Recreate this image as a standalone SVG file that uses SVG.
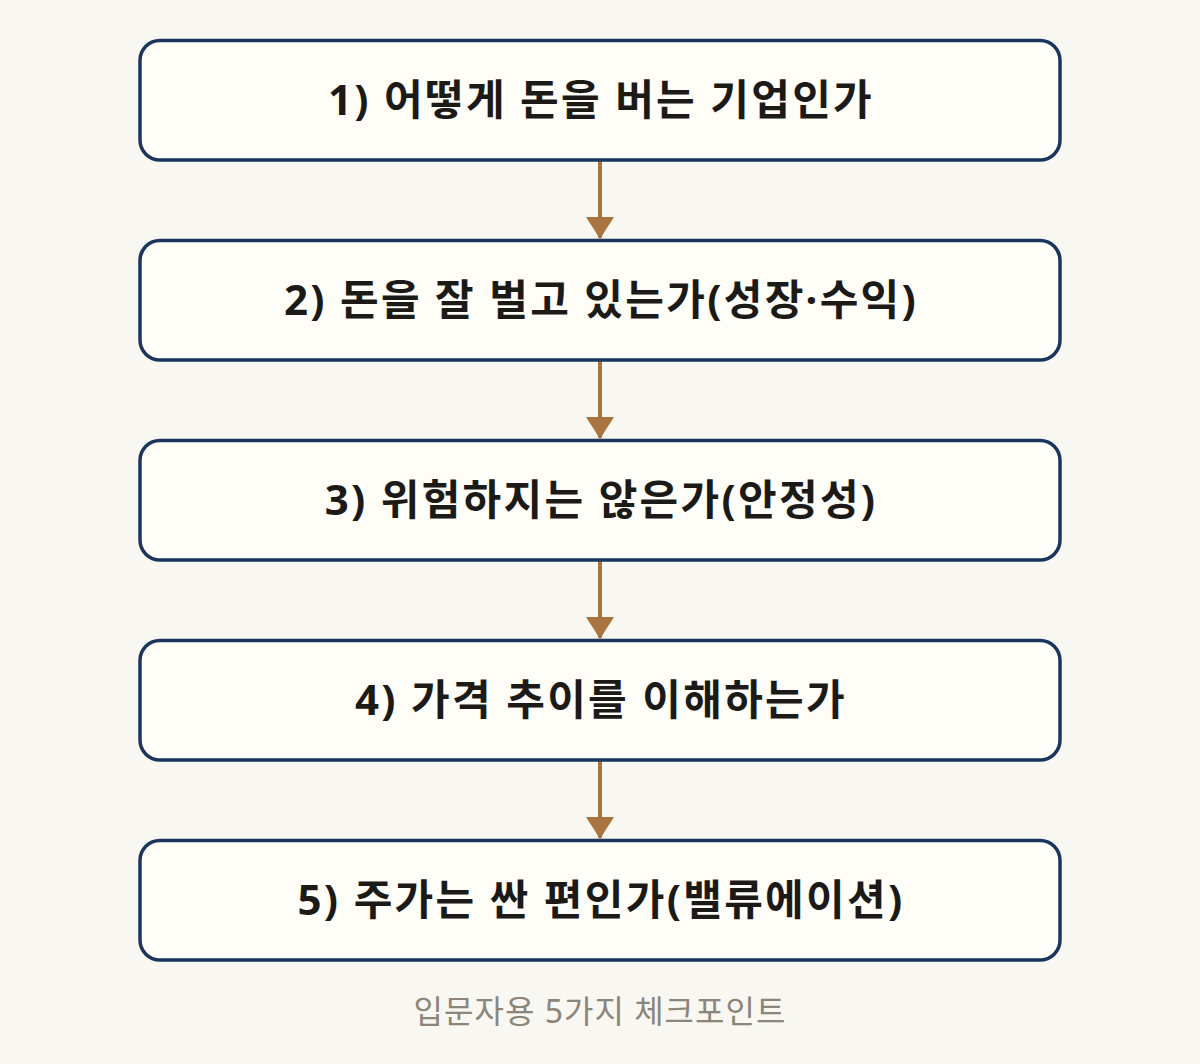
<svg xmlns="http://www.w3.org/2000/svg" width="1200" height="1064" viewBox="0 0 1200 1064">
<defs>
<style>
.box{fill:#fffdf8;stroke:#1b365d;stroke-width:3.5}
.lbl{font-family:"Noto Sans","Noto Sans CJK KR",sans-serif;font-size:42px;font-weight:700;fill:#1c1a17;text-anchor:middle;letter-spacing:2.3px}
.cap{font-family:"Noto Sans","Noto Sans CJK KR",sans-serif;font-size:32px;font-weight:400;fill:#8c8579;text-anchor:middle;letter-spacing:1px}
.edge{stroke:#a8743f;stroke-width:4;fill:none}
</style>
<marker id="ah" markerUnits="userSpaceOnUse" markerWidth="22" markerHeight="28" refX="21" refY="14" orient="auto" viewBox="0 0 22 28">
<path d="M0,0 L22,14 L0,28 Z" fill="#a8743f"/>
</marker>
</defs>
<rect width="1200" height="1064" fill="#f9f7f1"/>
<g id="connectors">
<line class="edge" x1="600" y1="161" x2="600" y2="238" marker-end="url(#ah)"/>
<line class="edge" x1="600" y1="361" x2="600" y2="438" marker-end="url(#ah)"/>
<line class="edge" x1="600" y1="561" x2="600" y2="638" marker-end="url(#ah)"/>
<line class="edge" x1="600" y1="761" x2="600" y2="838" marker-end="url(#ah)"/>
</g>
<g id="node1"><rect class="box" x="140" y="40.5" width="920" height="119.5" rx="20"/><text class="lbl" x="601" y="115">1) 어떻게 돈을 버는 기업인가</text></g>
<g id="node2"><rect class="box" x="140" y="240.5" width="920" height="119.5" rx="20"/><text class="lbl" x="601" y="315">2) 돈을 잘 벌고 있는가(성장·수익)</text></g>
<g id="node3"><rect class="box" x="140" y="440.5" width="920" height="119.5" rx="20"/><text class="lbl" x="601" y="515">3) 위험하지는 않은가(안정성)</text></g>
<g id="node4"><rect class="box" x="140" y="640.5" width="920" height="119.5" rx="20"/><text class="lbl" x="601" y="715">4) 가격 추이를 이해하는가</text></g>
<g id="node5"><rect class="box" x="140" y="840.5" width="920" height="119.5" rx="20"/><text class="lbl" x="601" y="915">5) 주가는 싼 편인가(밸류에이션)</text></g>
<text class="cap" x="600" y="1023">입문자용 5가지 체크포인트</text>
</svg>
